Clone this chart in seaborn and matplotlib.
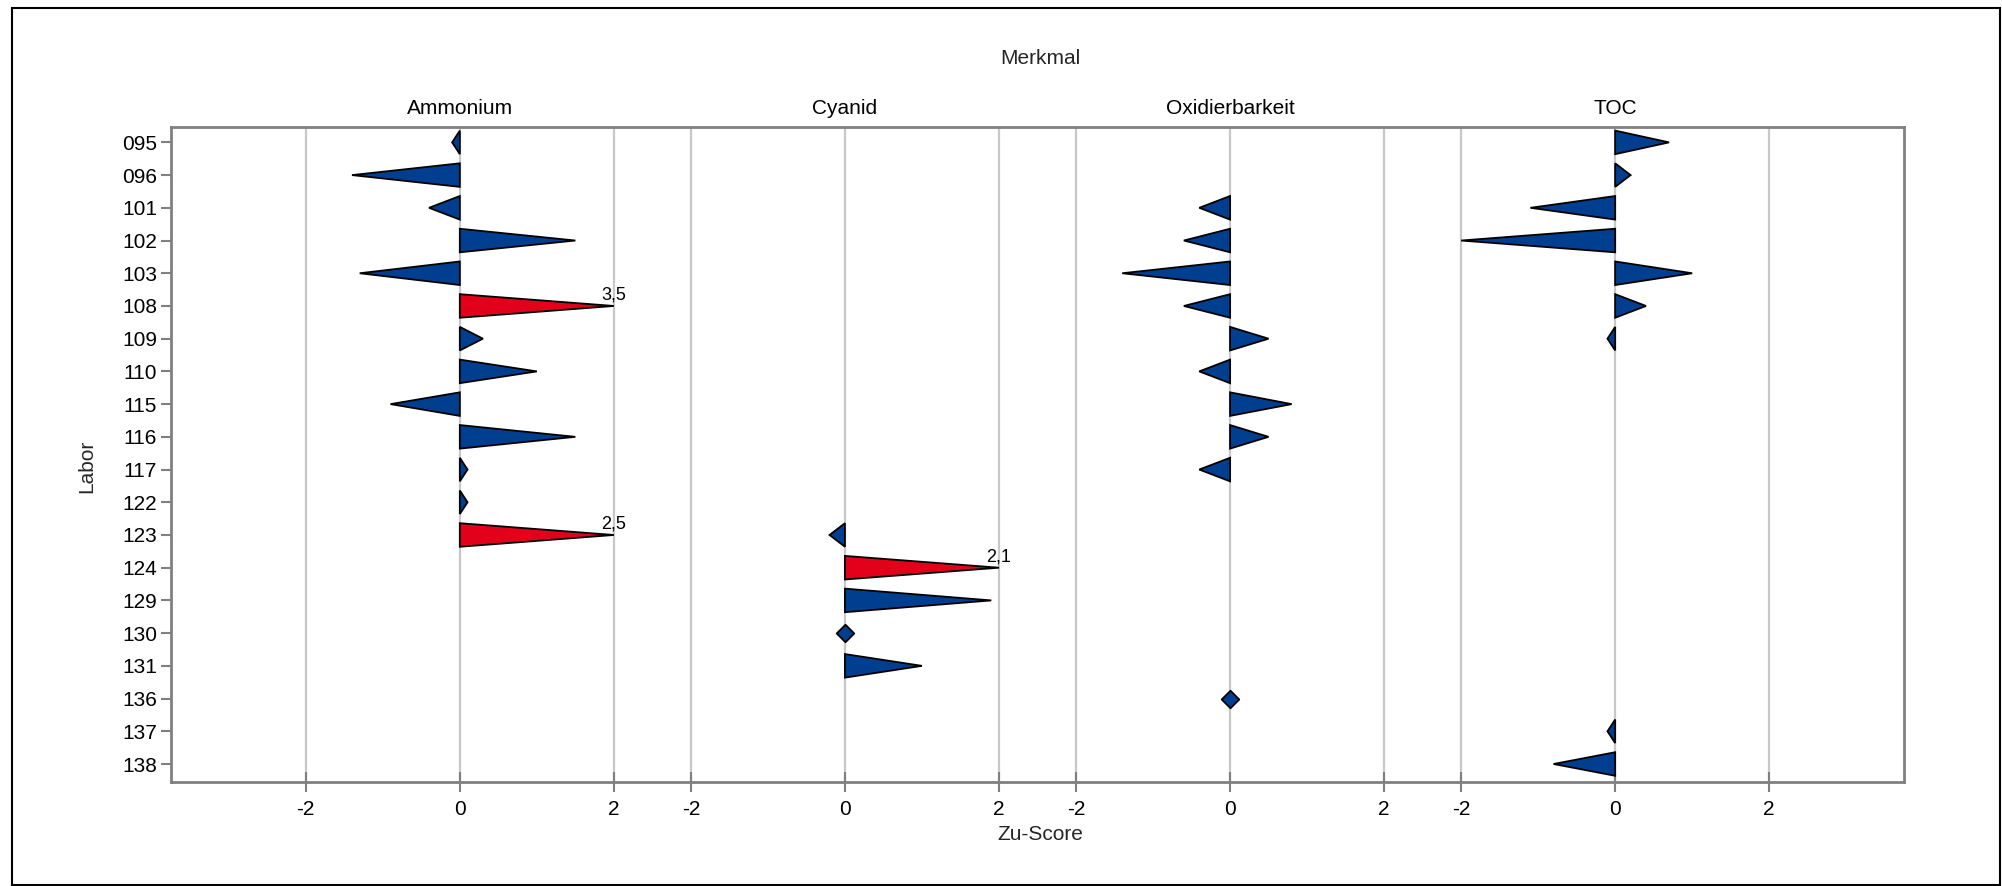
import numpy as np
import pandas as pd
import matplotlib
matplotlib.use("Agg")
import matplotlib.pyplot as plt
import seaborn as sns
from matplotlib.patches import Rectangle

nan = np.nan
labs = ["095", "096", "101", "102", "103", "108", "109", "110", "115", "116",
        "117", "122", "123", "124", "129", "130", "131", "136", "137", "138"]
features = ["Ammonium", "Cyanid", "Oxidierbarkeit", "TOC"]
ammonium = [-0.1, -1.4, -0.4, 1.5, -1.3, 3.5, 0.3, 1.0, -0.9, 1.5,
            0.1, 0.1, 2.5, nan, nan, nan, nan, nan, nan, nan]
cyanid = [nan, nan, nan, nan, nan, nan, nan, nan, nan, nan,
          nan, nan, -0.2, 2.1, 1.9, 0.0, 1.0, nan, nan, nan]
oxidierbarkeit = [nan, nan, -0.4, -0.6, -1.4, -0.6, 0.5, -0.4, 0.8, 0.5,
                  -0.4, nan, nan, nan, nan, nan, nan, 0.0, nan, nan]
toc = [0.7, 0.2, -1.1, -2.0, 1.0, 0.4, -0.1, nan, nan, nan,
       nan, nan, nan, nan, nan, nan, nan, nan, -0.1, -0.8]
xticklabels = ["-2", "0", "2"]
limit = 2.0

BLUE = "#003f8f"
RED = "#e2001a"
GRAY = "#808080"
GRID = "#c8c8c8"

sns.set_theme(style="white")
plt.rcParams["font.family"] = ["Liberation Sans", "DejaVu Sans"]

df = pd.DataFrame({"Labor": labs, "Ammonium": ammonium, "Cyanid": cyanid,
                   "Oxidierbarkeit": oxidierbarkeit, "TOC": toc})
long = df.melt(id_vars="Labor", var_name="Merkmal", value_name="z").dropna()
long["row"] = long["Labor"].map({l: i for i, l in enumerate(labs)})
long["off"] = long["Merkmal"].map({f: 5 * i for i, f in enumerate(features)})

W, H = 2002, 886
top_px, bot_px, left_px, right_px = 127, 782, 171, 1904
fig = plt.figure(figsize=(W / 100, H / 100), dpi=100)
ax = fig.add_axes([left_px / W, 1 - bot_px / H, (right_px - left_px) / W,
                   (bot_px - top_px) / H])

# grid lines
ticks = []
for i in range(len(features)):
    for t in (-2, 0, 2):
        ticks.append(5 * i + t)
for t in ticks:
    ax.axvline(t, color=GRID, lw=1.6, zorder=0)

half = 0.36
for _, r in long.iterrows():
    z, y, off = r["z"], r["row"], r["off"]
    if z == 0:
        continue
    zc = max(min(z, limit), -limit)
    col = RED if abs(z) > limit else BLUE
    ax.fill([off, off, off + zc], [y - half, y + half, y],
            facecolor=col, edgecolor="black", lw=1.3, zorder=3,
            joinstyle="miter")
    if abs(z) > limit:
        ax.text(off + zc, y - 0.07, f"{z:.1f}".replace(".", ","),
                ha="center", va="bottom", fontsize=13, color="black", zorder=4)

zeros = long[long["z"] == 0].copy()
zeros["x"] = zeros["off"] + zeros["z"]
sns.scatterplot(data=zeros, x="x", y="row", marker="D", s=80, color=BLUE,
                edgecolor="black", linewidth=1.3, ax=ax, zorder=4, legend=False)

ax.set_xlim(-3.75, 18.75)
ax.set_ylim(19.55, -0.47)
ax.set_xticks(ticks)
ax.set_xticklabels(xticklabels * len(features), fontsize=15)
ax.set_yticks(range(len(labs)))
ax.set_yticklabels(labs, fontsize=15)
ax.set_xlabel("")
ax.set_ylabel("")
ax.tick_params(axis="x", direction="inout", length=14, width=1.5, color=GRAY,
               pad=6, labelcolor="black", bottom=True)
ax.tick_params(axis="y", direction="out", length=7, width=1.5, color=GRAY,
               pad=3, labelcolor="black", left=True)
for s in ax.spines.values():
    s.set_color(GRAY)
    s.set_linewidth(2.0)
    s.set_visible(True)

tr = ax.get_xaxis_transform()
for i, f in enumerate(features):
    ax.text(5 * i, 1 + 19 / (bot_px - top_px), f, transform=tr, ha="center",
            va="center", fontsize=15, color="black")

fig.text(1040 / W, 1 - 59 / H, "Merkmal", ha="center", va="center", fontsize=15)
fig.text(1040 / W, 1 - 834 / H, "Zu-Score", ha="center", va="center", fontsize=15)
fig.text(87 / W, 1 - 466 / H, "Labor", ha="center", va="center", fontsize=15,
         rotation=90)

fig.patches.append(Rectangle((12 / W, 1 / H), (W - 14) / W, (H - 9) / H,
                             transform=fig.transFigure, fill=False,
                             edgecolor="black", lw=1.5))

fig.savefig("out.png", dpi=100)
